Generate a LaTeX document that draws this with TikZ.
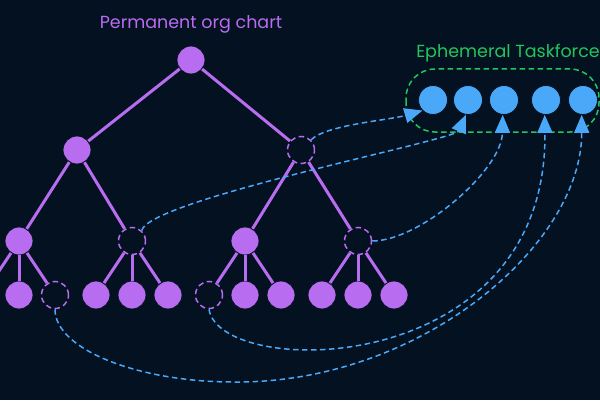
\documentclass[tikz,border=0pt]{standalone}
\usepackage{fontspec}
\setmainfont{Poppins}
\usetikzlibrary{arrows.meta}
\definecolor{bg}{HTML}{041121}
\definecolor{purp}{HTML}{B86CF0}
\definecolor{blu}{HTML}{4AA8F8}
\definecolor{grn}{HTML}{22C55E}
\tikzset{
  full/.style={circle,fill=purp,draw=bg,line width=0.8pt,minimum size=28pt,inner sep=0pt},
  ghost/.style={circle,draw=purp,dash pattern=on 5.5pt off 3.5pt,line width=1.5pt,minimum size=27pt,inner sep=0pt},
  tf/.style={circle,fill=blu,draw=bg,line width=0.8pt,minimum size=29pt,inner sep=0pt},
  edge/.style={draw=purp,line width=3pt},
  link/.style={draw=blu,dash pattern=on 5.5pt off 3.5pt,line width=1.5pt},
  tip/.style={-{Triangle[length=18pt,width=15pt]}},
  ttl/.style={font=\fontsize{17.5}{20}\selectfont}
}
\begin{document}
\begin{tikzpicture}[x=1pt,y=1pt]
\fill[bg] (0,0) rectangle (600,400);
\useasboundingbox (0,0) rectangle (600,400);
\clip (0,0) rectangle (600,400);
% titles
\node[ttl,text=purp] (t0) at (191,376) {Permanent org chart};
\node[ttl,text=grn] (t9) at (508,347) {Ephemeral Taskforce};
% taskforce box
\draw[grn,dash pattern=on 5.5pt off 3.5pt,line width=1.5pt,rounded corners=29pt] (406,268) rectangle (599,331);
% tree nodes
\node[full] (root) at (191,340) {};
\node[full] (a) at (77,250) {};
\node[ghost] (d1) at (301,250) {};
\node[full] (b1) at (19,159) {};
\node[ghost] (d2) at (132,159) {};
\node[full] (b3) at (245,159) {};
\node[ghost] (d3) at (358,159) {};
\node[full] (l0) at (-17,105) {};
\node[full] (l1) at (19,105) {};
\node[ghost] (d4) at (55,105) {};
\node[full] (l3) at (96,105) {};
\node[full] (l4) at (132,105) {};
\node[full] (l5) at (168,105) {};
\node[ghost] (d5) at (209,105) {};
\node[full] (l7) at (245,105) {};
\node[full] (l8) at (281,105) {};
\node[full] (l9) at (322,105) {};
\node[full] (l10) at (358,105) {};
\node[full] (l11) at (394,105) {};
% edges
\foreach \p/\c in {root/a,root/d1,a/b1,a/d2,d1/b3,d1/d3,b1/l0,b1/l1,b1/d4,d2/l3,d2/l4,d2/l5,b3/d5,b3/l7,b3/l8,d3/l9,d3/l10,d3/l11}
  \path[edge] (\p) -- (\c);
% taskforce nodes
\node[tf] (t1) at (433,300) {};
\node[tf] (t2) at (468,300) {};
\node[tf] (t3) at (504,300) {};
\node[tf] (t4) at (546,300) {};
\node[tf] (t5) at (583,300) {};
% links
\draw[link,tip] (d1.45) .. controls (325,275) and (390,280) .. (t1.225);
\draw[link,tip] (d2.47) .. controls (148,200) and (455,260) .. (t2.262);
\draw[link,tip] (d3.east) .. controls (420,159) and (502,230) .. (t3.265);
\draw[link,tip] (d5.south) .. controls (220,20) and (548,20) .. (t4.265);
\draw[link,tip] (d4.south) .. controls (55,50) and (140,18) .. (233,18) .. controls (420,16) and (582,155) .. (t5.265);
\end{tikzpicture}
\end{document}
